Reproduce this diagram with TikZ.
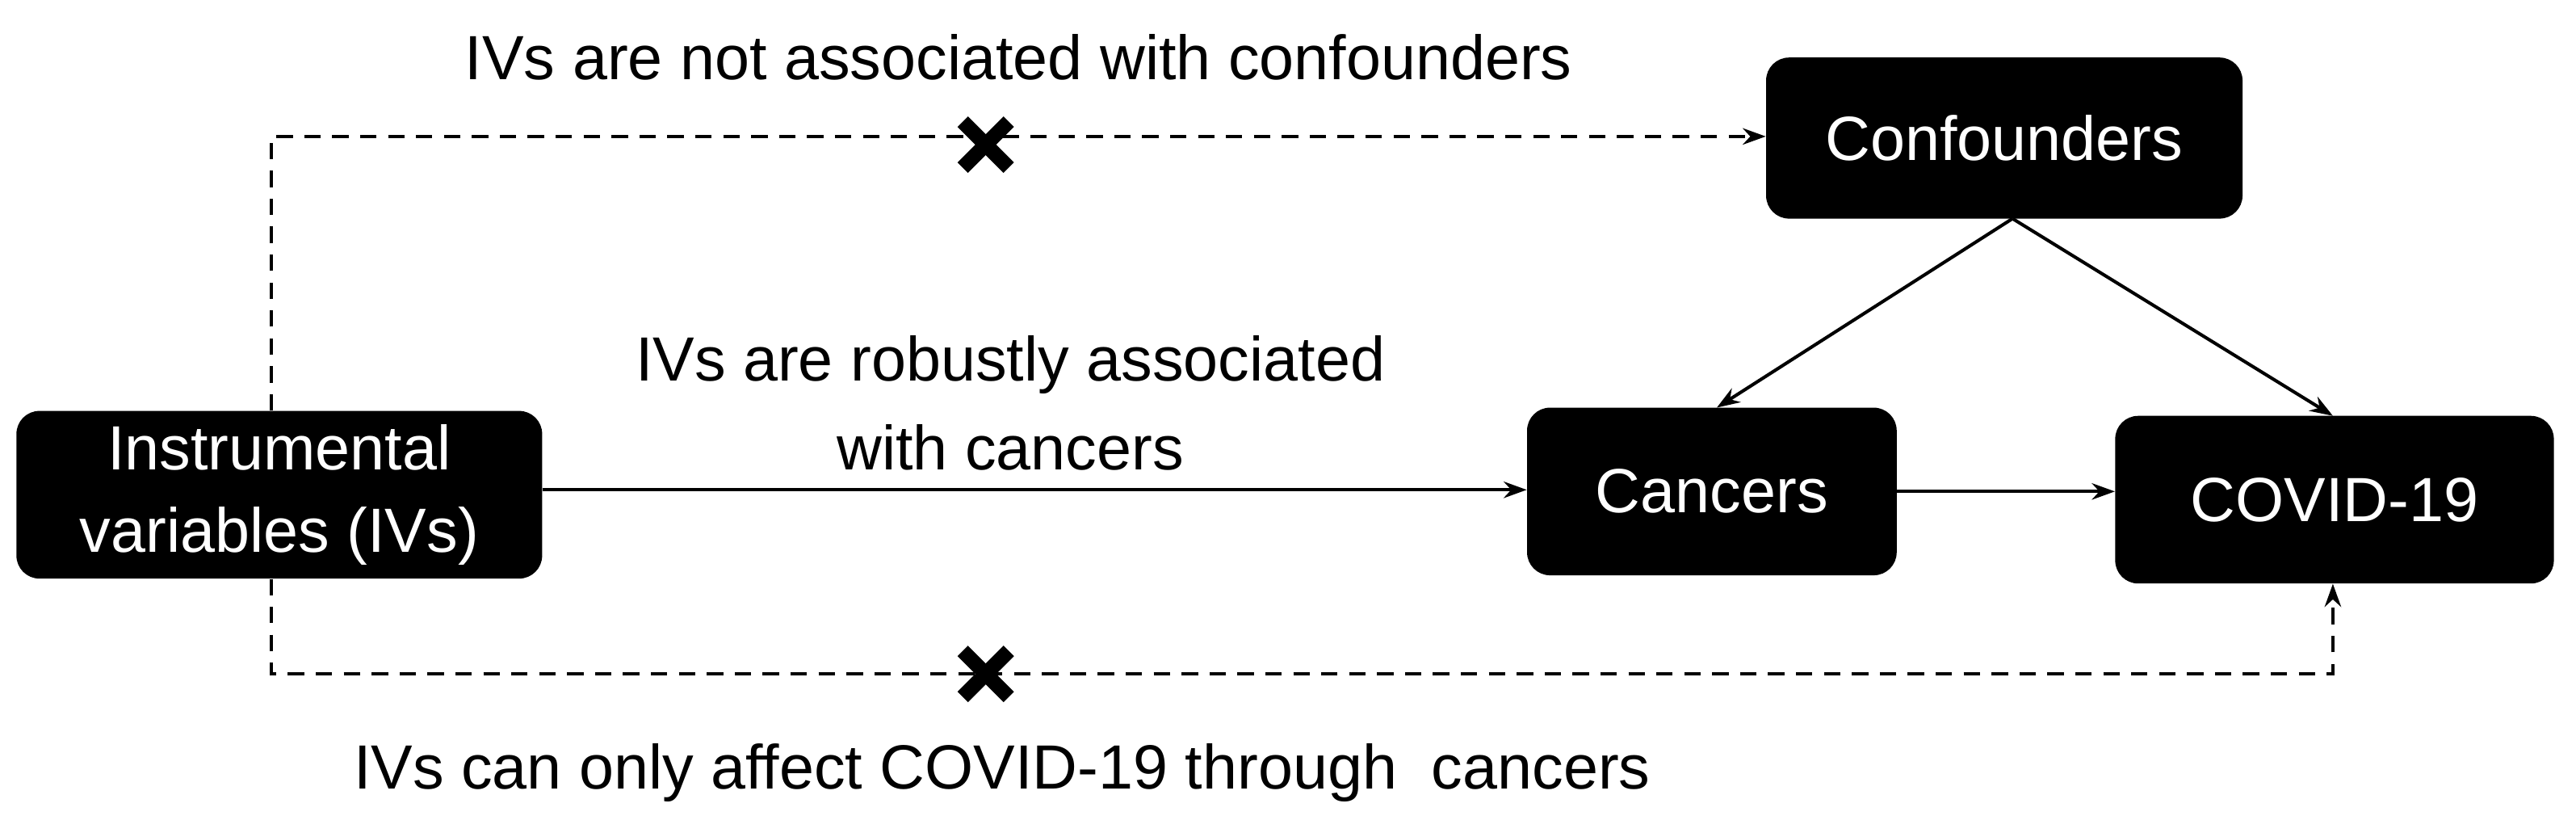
\documentclass[tikz,border=0pt]{standalone}
\usepackage{fontspec}
\setmainfont{Liberation Sans}
\usetikzlibrary{arrows.meta}
\begin{document}
\begin{tikzpicture}[x=1pt,y=-1pt,
  box/.style={fill=black,rounded corners=14pt,text=white,font=\fontsize{38}{50}\selectfont,align=center,inner sep=0pt},
  lab/.style={font=\fontsize{38}{54}\selectfont,align=center},
  arr/.style={-{Stealth[length=14pt,width=10pt]},line width=2pt},
  darr/.style={arr,dash pattern=on 10pt off 7pt}]
\useasboundingbox (0,0) rectangle (1568,496);
\node[box,minimum width=320pt,minimum height=102pt] (iv) at (170,301) {Instrumental\\variables (IVs)};
\node[box,minimum width=290pt,minimum height=98pt] (conf) at (1220,84) {Confounders};
\node[box,minimum width=225pt,minimum height=102pt] (canc) at (1042,299) {Cancers};
\node[box,minimum width=267pt,minimum height=102pt] (cov) at (1421,304) {COVID-19};
\coordinate (t1) at (165,83);
\coordinate (b1) at (165,410);
\coordinate (b2) at (1420,410);
\draw[darr] (iv.north -| t1) -- (t1) -- (conf.west |- t1);
\draw[darr] (iv.south -| b1) -- (b1) -- (b2) -- (cov.south -| b2);
\draw[arr] (iv.east |- 0,298) -- (canc.west |- 0,298);
\draw[arr] (canc.east) -- (cov.west |- canc.east);
\draw[arr] (1225,133) -- (1045,248);
\draw[arr] (1225,133) -- (1420,253);
\node[lab] (l1) at (620,35) {IVs are not associated with confounders};
\node[lab] (l2) at (615,245) {IVs are robustly associated\\with cancers};
\node[lab] (l3) at (610,470) {IVs can only affect COVID-19 through\ \ cancers};
\foreach \n/\y in {x1/88,x2/410}{
  \coordinate (\n) at (600,\y);
  \draw[line width=9pt] ([shift={(-14,-14)}]\n) -- ([shift={(14,14)}]\n);
  \draw[line width=9pt] ([shift={(-14,14)}]\n) -- ([shift={(14,-14)}]\n);
}
\end{tikzpicture}
\end{document}
